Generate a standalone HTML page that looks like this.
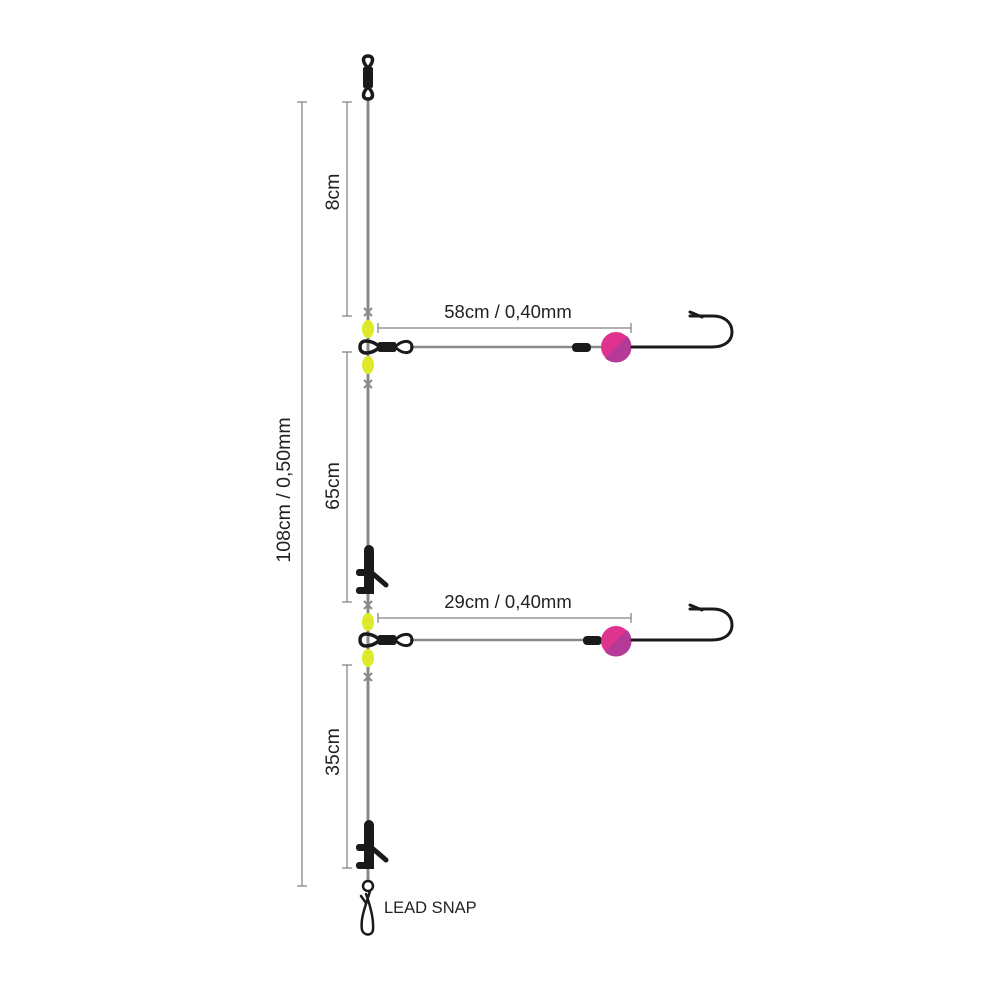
<!DOCTYPE html>
<html><head><style>html,body{margin:0;padding:0;background:#fff}svg{display:block}</style></head><body>
<svg width="1000" height="1000" viewBox="0 0 1000 1000" xmlns="http://www.w3.org/2000/svg" font-family="Liberation Sans, sans-serif">
<defs>
<g id="junc">
  <g stroke="#8a8a8a" stroke-width="2">
    <path d="M364,-39 l8,8 M372,-39 l-8,8"/>
    <path d="M364,33 l8,8 M372,33 l-8,8"/>
  </g>
  <ellipse cx="368" cy="-18" rx="6" ry="9" fill="#dcea2a"/>
  <ellipse cx="368" cy="18" rx="6" ry="9" fill="#dcea2a"/>
  <path d="M360,0 C360,-9 372,-7 380,0 C372,7 360,9 360,0 Z" fill="none" stroke="#1a1a1a" stroke-width="3.5"/>
  <rect x="378" y="-5" width="18" height="10" rx="2" fill="#1a1a1a"/>
  <path d="M395,0 C403,-8 412,-7 412,0 C412,7 403,8 395,0 Z" fill="none" stroke="#1a1a1a" stroke-width="3"/>
</g>
<g id="boom">
  <rect x="364" y="0" width="10" height="40" rx="5" fill="#1a1a1a"/>
  <rect x="356" y="24" width="18" height="7" rx="3" fill="#1a1a1a"/>
  <rect x="356" y="42" width="18" height="7" rx="3" fill="#1a1a1a"/>
  <rect x="364" y="24" width="10" height="25" fill="#1a1a1a"/>
  <path d="M372,28 L386,40" stroke="#1a1a1a" stroke-width="5" stroke-linecap="round"/>
</g>
</defs>

<g stroke="#666" stroke-width="1" fill="none">
  <path d="M302,102 V886 M297,102 h10 M297,886 h10"/>
  <path d="M347,102 V316 M342,102 h10 M342,316 h10"/>
  <path d="M347,352 V602 M342,352 h10 M342,602 h10"/>
  <path d="M347,665 V868 M342,665 h10 M342,868 h10"/>
  <path d="M378,328 H631 M378,323 v10 M631,323 v10"/>
  <path d="M378,618 H631 M378,613 v10 M631,613 v10"/>
</g>
<g font-size="18.5" fill="#222">
  <text x="508" y="318" text-anchor="middle">58cm / 0,40mm</text>
  <text x="508" y="608" text-anchor="middle">29cm / 0,40mm</text>
  <text transform="translate(290,490) rotate(-90)" text-anchor="middle" font-size="19.5">108cm / 0,50mm</text>
  <text transform="translate(339,192) rotate(-90)" text-anchor="middle" font-size="19.5">8cm</text>
  <text transform="translate(339,486) rotate(-90)" text-anchor="middle" font-size="19.5">65cm</text>
  <text transform="translate(339,752) rotate(-90)" text-anchor="middle" font-size="19.5">35cm</text>
  <text x="384" y="913" font-size="16.5">LEAD SNAP</text>
</g>

<path d="M368,98 V880" stroke="#8a8a8a" stroke-width="3"/>
<path d="M410,347 H632" stroke="#8a8a8a" stroke-width="2.5"/>
<path d="M410,640 H632" stroke="#8a8a8a" stroke-width="2.5"/>

<!-- top swivel -->
<g fill="none" stroke="#1a1a1a" stroke-width="3.5">
  <path d="M368,68 C362,62 362,56 368,56 C374,56 374,62 368,68 Z"/>
  <path d="M368,87 C362,93 362,99 368,99 C374,99 374,93 368,87 Z"/>
</g>
<rect x="363" y="67" width="10" height="21" rx="2" fill="#1a1a1a"/>

<use href="#junc" transform="translate(0,347)"/>
<use href="#junc" transform="translate(0,640)"/>

<use href="#boom" transform="translate(0,545)"/>
<use href="#boom" transform="translate(0,820)"/>

<rect x="572" y="343" width="19" height="9" rx="4" fill="#1a1a1a"/>
<rect x="583" y="636" width="19" height="9" rx="4" fill="#1a1a1a"/>

<g>
  <circle cx="616" cy="347" r="15" fill="#e0338f"/>
  <path d="M627,336 A15,15 0 0 1 605,358 Z" fill="#b53a98"/>
  <circle cx="616" cy="641" r="15" fill="#e0338f"/>
  <path d="M627,630 A15,15 0 0 1 605,652 Z" fill="#b53a98"/>
</g>

<g fill="none" stroke="#1a1a1a" stroke-width="3" stroke-linecap="round">
  <path d="M632,347 H712 C726,347 732,340 732,332 C732,322 724,316 713,316 H690"/>
  <path d="M702,317 L690,312"/>
  <path d="M632,640 H712 C726,640 732,633 732,625 C732,615 724,609 713,609 H690"/>
  <path d="M702,610 L690,605"/>
</g>

<g fill="none" stroke="#1a1a1a" stroke-width="2.5" stroke-linecap="round">
  <circle cx="368" cy="886" r="5"/>
  <path d="M370,891 C366,905 360,918 362,930 C364,936 372,936 373,930 C374,918 370,905 366,894"/>
  <path d="M366,903 L361,896"/>
</g>
</svg>
</body></html>
